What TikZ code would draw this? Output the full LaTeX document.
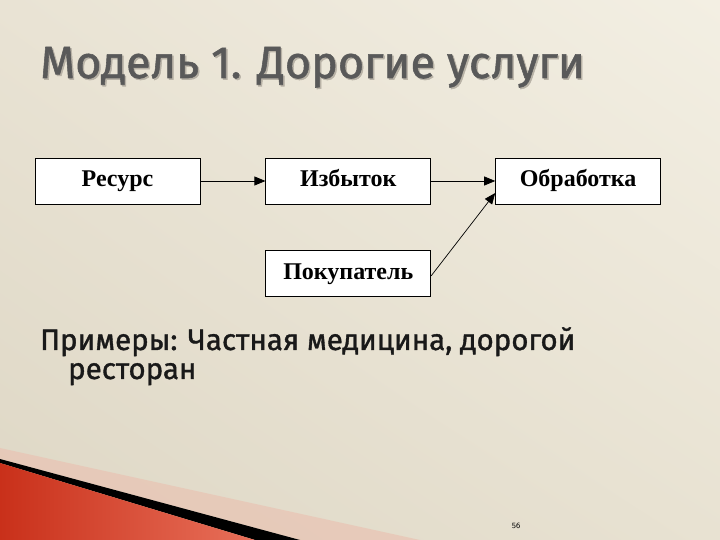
\documentclass[tikz,border=0pt]{standalone}
\usepackage{fontspec}
\setmainfont{Liberation Serif}
\newfontfamily\slidefont{Fira Sans}[FakeBold=1.2]
\usepackage{xcolor}
\usetikzlibrary{arrows.meta,positioning,shadings}
\definecolor{BgUL}{HTML}{E9E3D4}
\definecolor{BgUR}{HTML}{F3EFE3}
\definecolor{BgLL}{HTML}{DED7C5}
\definecolor{BgLR}{HTML}{E8E2D2}
\definecolor{TitleGray}{HTML}{595959}
\definecolor{ShadowGray}{HTML}{B8B2A6}
\definecolor{RibbonRed}{HTML}{C9301A}
\definecolor{RibbonLight}{HTML}{E8705A}
\definecolor{RibbonPink}{HTML}{E9C3B3}
\tikzset{
  whitebox/.style={draw=black,line width=0.8pt,fill=white,align=center,
              minimum width=165pt,minimum height=46pt,inner sep=2pt,
              text height=16pt,text depth=5pt,
              font=\fontsize{24}{26}\selectfont\bfseries},
  flow/.style={-{Triangle[length=11pt,width=9pt]},line width=0.7pt,draw=black},
  titletext/.style={anchor=base west,inner sep=0pt,
              font=\slidefont\fontsize{45}{50}\selectfont},
  bodytext/.style={anchor=base west,inner sep=0pt,text=black!90,
              font=\slidefont\fontsize{29.5}{32}\selectfont}
}
\begin{document}
\begin{tikzpicture}[x=1pt,y=1pt,node distance=46pt and 65pt]
  \useasboundingbox (0,0) rectangle (720,540);
  % slide background and ribbon
  \shade[upper left=BgUL,upper right=BgUR,lower left=BgLL,lower right=BgLR]
    (0,0) rectangle (720,540);
  \fill[RibbonPink,opacity=0.7] (0,92) -- (0,81) -- (300,0) -- (420,0) -- cycle;
  \fill[black] (0,81) -- (0,77) -- (255,0) -- (300,0) -- cycle;
  \shade[left color=RibbonRed,right color=RibbonLight] (0,77) -- (255,0) -- (0,0) -- cycle;
  % title
  \node[titletext,text=ShadowGray] (titleshadow) at (41.5,460.5) {Модель 1. Дорогие услуги};
  \node[titletext,text=TitleGray] (title) at (40,462) {Модель 1. Дорогие услуги};
  % boxes
  \node[whitebox] (res) at (117.5,359) {Ресурс};
  \node[whitebox,right=of res] (izb) {Избыток};
  \node[whitebox,right=64pt of izb] (obr) {Обработка};
  \node[whitebox,below=of izb] (pok) {Покупатель};
  \draw[flow] (res) -- (izb);
  \draw[flow] (izb) -- (obr);
  \draw[flow] ([yshift=-2pt]pok.east) -- ([yshift=-12pt]obr.west);
  % examples
  \node[bodytext] (ex1) at (40,190) {Примеры: Частная медицина, дорогой};
  \node[bodytext] (ex2) at (68,161) {ресторан};
  \node[anchor=base,inner sep=0pt,font=\sffamily\fontsize{8}{9}\selectfont] (pagenum) at (516,11) {56};
\end{tikzpicture}
\end{document}
